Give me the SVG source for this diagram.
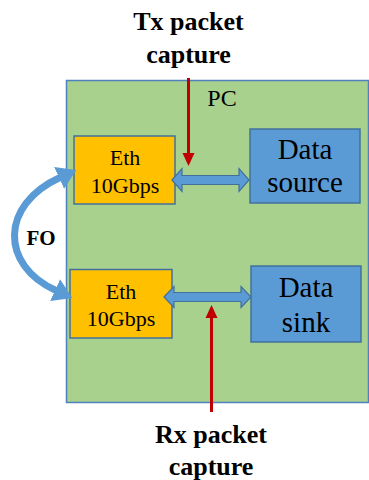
<svg xmlns="http://www.w3.org/2000/svg" width="369" height="480" viewBox="0 0 369 480">
  <style>
    text { font-family: 'Liberation Serif', 'DejaVu Serif', serif; fill: #000; text-anchor: middle; }
    .bold { font-weight: bold; font-size: 26px; }
    .eth { fill: #FFC000; stroke: #41719C; stroke-width: 1.5; }
    .data { fill: #5B9BD5; stroke: #41719C; stroke-width: 1.5; }
    .link { fill: #5B9BD5; stroke: #41719C; stroke-width: 1.2; }
    .probe { stroke: #C00000; stroke-width: 3; fill: none; }
  </style>
  <defs>
    <marker id="redHead" markerUnits="userSpaceOnUse" markerWidth="14" markerHeight="14" viewBox="0 0 14 14" refX="0" refY="7" orient="auto">
      <path d="M0,1 L13,7 L0,13 Z" fill="#C00000"/>
    </marker>
    <marker id="foHead" markerUnits="userSpaceOnUse" markerWidth="20" markerHeight="26" viewBox="0 0 20 26" refX="1" refY="13" orient="auto-start-reverse">
      <path d="M0,1 L19,13 L0,25 Z" fill="#5B9BD5"/>
    </marker>
  </defs>

  <!-- PC enclosure -->
  <g id="pc">
    <rect x="66.5" y="80.5" width="302" height="322" fill="#A9D18E" stroke="#4F81BD" stroke-width="1.5"/>
    <text x="222" y="106" font-size="24">PC</text>
  </g>

  <!-- Ethernet interfaces -->
  <g id="eth-tx">
    <rect class="eth" x="74" y="136" width="101" height="68"/>
    <text x="125" y="165" font-size="22">Eth</text>
    <text x="125" y="193" font-size="22">10Gbps</text>
  </g>
  <g id="eth-rx">
    <rect class="eth" x="70" y="269.5" width="102" height="68.5"/>
    <text x="121" y="299" font-size="22">Eth</text>
    <text x="121" y="326" font-size="22">10Gbps</text>
  </g>

  <!-- Data endpoints -->
  <g id="data-source">
    <rect class="data" x="250" y="129" width="110" height="74"/>
    <text x="305" y="159" font-size="29">Data</text>
    <text x="305" y="192" font-size="29">source</text>
  </g>
  <g id="data-sink">
    <rect class="data" x="251" y="266" width="110" height="76"/>
    <text x="306" y="297" font-size="29">Data</text>
    <text x="306" y="332" font-size="29">sink</text>
  </g>

  <!-- Capture labels -->
  <g id="tx-capture">
    <text class="bold" x="188.5" y="30">Tx packet</text>
    <text class="bold" x="188.5" y="63">capture</text>
  </g>
  <g id="rx-capture">
    <text class="bold" x="211" y="443">Rx packet</text>
    <text class="bold" x="211" y="475">capture</text>
  </g>

  <!-- Fibre label -->
  <g id="fo-label">
    <text x="41" y="245" font-size="21" font-weight="bold">FO</text>
  </g>

  <!-- Connectors -->
  <g id="connectors">
    <!-- bidirectional links between interfaces and endpoints -->
    <polygon class="link" points="172,180 182,168.5 182,175.5 239,175.5 239,168.5 249,180 239,191.5 239,184.5 182,184.5 182,191.5"/>
    <polygon class="link" points="164,297 174,286.5 174,292.5 241,292.5 241,286.5 251,297 241,307.5 241,301.5 174,301.5 174,307.5"/>
    <!-- fibre loop between the two interfaces -->
    <path d="M56,290.5 C0,265 0,205 60,177.5" fill="none" stroke="#5B9BD5" stroke-width="7" marker-start="url(#foHead)" marker-end="url(#foHead)"/>
    <!-- capture probes -->
    <path class="probe" d="M188.5,78 L188.5,153" marker-end="url(#redHead)"/>
    <path class="probe" d="M211.5,412 L211.5,318" marker-end="url(#redHead)"/>
  </g>
</svg>
